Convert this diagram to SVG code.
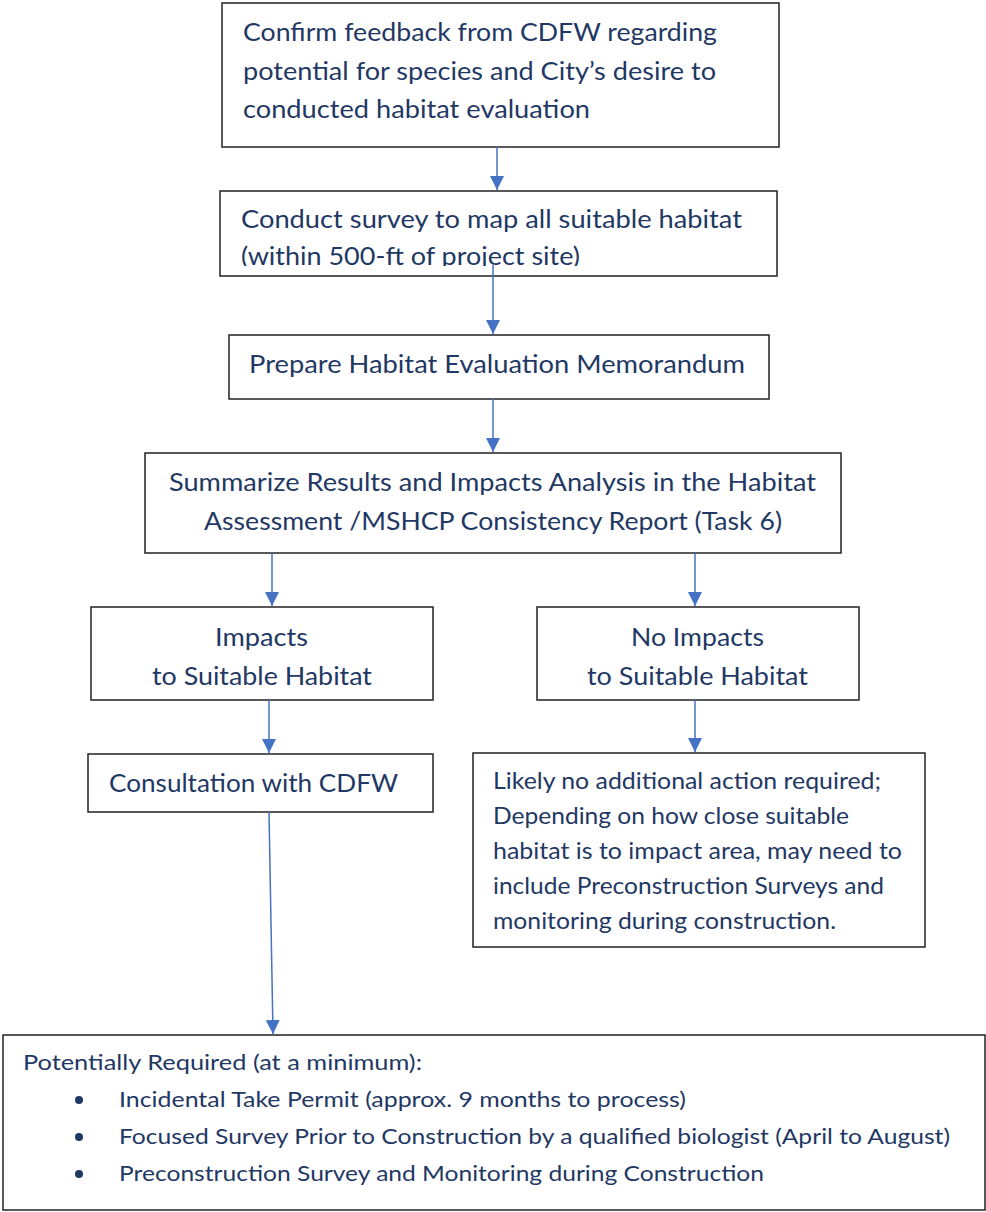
<svg xmlns="http://www.w3.org/2000/svg" width="986" height="1212" viewBox="0 0 986 1212">
<style>
.box{fill:#fff;stroke:#222;stroke-width:1.5}
.t{font-family:Lato,"Open Sans","Liberation Sans",sans-serif;font-size:24.5px;fill:#1F3864}
.s{font-size:23px}
.b{font-size:21px}
.c{stroke:#4472C4;stroke-width:1.5;fill:none}
</style>
<defs>
<marker id="ah" markerUnits="userSpaceOnUse" markerWidth="16" markerHeight="16" refX="14" refY="7" orient="auto">
<path d="M0,0 L14,7 L0,14 Z" fill="#4472C4"/>
</marker>
<clipPath id="clip2"><rect x="220" y="191" width="557" height="75"/></clipPath>
</defs>
<rect width="986" height="1212" fill="#fff"/>
<g id="n1">
<rect class="box" x="222" y="3" width="557" height="144"/>
<text class="t" x="243" y="41" textLength="474" lengthAdjust="spacingAndGlyphs">Confirm feedback from CDFW regarding</text>
<text class="t" x="243" y="80" textLength="473" lengthAdjust="spacingAndGlyphs">potential for species and City’s desire to</text>
<text class="t" x="243" y="118" textLength="347" lengthAdjust="spacingAndGlyphs">conducted habitat evaluation</text>
</g>
<g id="n2">
<rect class="box" x="220" y="191" width="557" height="85"/>
<text class="t" x="241" y="228" textLength="501" lengthAdjust="spacingAndGlyphs">Conduct survey to map all suitable habitat</text>
<text class="t" x="241" y="265" textLength="339" lengthAdjust="spacingAndGlyphs" clip-path="url(#clip2)">(within 500-ft of project site)</text>
</g>
<g id="n3">
<rect class="box" x="229" y="335" width="540" height="64"/>
<text class="t" x="249" y="373" textLength="496" lengthAdjust="spacingAndGlyphs">Prepare Habitat Evaluation Memorandum</text>
</g>
<g id="n4">
<rect class="box" x="145" y="453" width="696" height="100"/>
<text class="t" x="169" y="491" textLength="647" lengthAdjust="spacingAndGlyphs">Summarize Results and Impacts Analysis in the Habitat</text>
<text class="t" x="204" y="530" textLength="578" lengthAdjust="spacingAndGlyphs">Assessment /MSHCP Consistency Report (Task 6)</text>
</g>
<g id="n5">
<rect class="box" x="91" y="607" width="342" height="93"/>
<text class="t" x="215" y="646" textLength="93" lengthAdjust="spacingAndGlyphs">Impacts</text>
<text class="t" x="152" y="685" textLength="220" lengthAdjust="spacingAndGlyphs">to Suitable Habitat</text>
</g>
<g id="n6">
<rect class="box" x="537" y="607" width="322" height="93"/>
<text class="t" x="631" y="646" textLength="133" lengthAdjust="spacingAndGlyphs">No Impacts</text>
<text class="t" x="587" y="685" textLength="221" lengthAdjust="spacingAndGlyphs">to Suitable Habitat</text>
</g>
<g id="n7">
<rect class="box" x="88" y="754" width="345" height="58"/>
<text class="t" x="109" y="792" textLength="289" lengthAdjust="spacingAndGlyphs">Consultation with CDFW</text>
</g>
<g id="n8">
<rect class="box" x="473" y="753" width="452" height="194"/>
<text class="t s" x="493" y="789" textLength="388" lengthAdjust="spacingAndGlyphs">Likely no additional action required;</text>
<text class="t s" x="493" y="824" textLength="356" lengthAdjust="spacingAndGlyphs">Depending on how close suitable</text>
<text class="t s" x="493" y="859" textLength="409" lengthAdjust="spacingAndGlyphs">habitat is to impact area, may need to</text>
<text class="t s" x="493" y="894" textLength="391" lengthAdjust="spacingAndGlyphs">include Preconstruction Surveys and</text>
<text class="t s" x="493" y="929" textLength="343" lengthAdjust="spacingAndGlyphs">monitoring during construction.</text>
</g>
<g id="n9">
<rect class="box" x="3" y="1035" width="982" height="175"/>
<text class="t b" x="23" y="1070" textLength="399" lengthAdjust="spacingAndGlyphs">Potentially Required (at a minimum):</text>
<circle cx="79" cy="1100" r="4" fill="#1F3864"/>
<circle cx="79" cy="1137" r="4" fill="#1F3864"/>
<circle cx="79" cy="1174" r="4" fill="#1F3864"/>
<text class="t b" x="119" y="1107" textLength="567" lengthAdjust="spacingAndGlyphs">Incidental Take Permit (approx. 9 months to process)</text>
<text class="t b" x="119" y="1144" textLength="831" lengthAdjust="spacingAndGlyphs">Focused Survey Prior to Construction by a qualified biologist (April to August)</text>
<text class="t b" x="119" y="1181" textLength="645" lengthAdjust="spacingAndGlyphs">Preconstruction Survey and Monitoring during Construction</text>
</g>
<g id="connectors">
<line class="c" x1="497" y1="147" x2="497" y2="190" marker-end="url(#ah)"/>
<line class="c" x1="493" y1="265" x2="493" y2="334" marker-end="url(#ah)"/>
<line class="c" x1="493" y1="399" x2="493" y2="452" marker-end="url(#ah)"/>
<line class="c" x1="272" y1="553" x2="272" y2="606" marker-end="url(#ah)"/>
<line class="c" x1="695" y1="553" x2="695" y2="606" marker-end="url(#ah)"/>
<line class="c" x1="269" y1="700" x2="269" y2="753" marker-end="url(#ah)"/>
<line class="c" x1="695" y1="700" x2="695" y2="752" marker-end="url(#ah)"/>
<line class="c" x1="269" y1="812" x2="273" y2="1034" marker-end="url(#ah)"/>
</g>
</svg>
